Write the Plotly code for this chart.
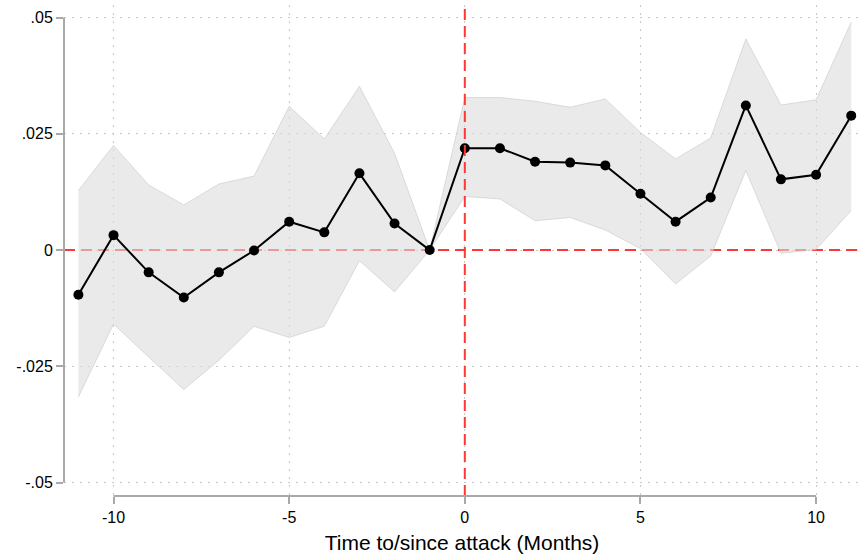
import plotly.graph_objects as go

months = list(range(-11, 12))
coef = [-0.0096, 0.0032, -0.0048, -0.0102, -0.0048, -0.0001, 0.0061, 0.0038, 0.0165, 0.0057, 0.0,
        0.0219, 0.0219, 0.0190, 0.0188, 0.0182, 0.0121, 0.0061, 0.0113, 0.0311, 0.0152, 0.0162, 0.0289]
upper = [0.0128, 0.0225, 0.0140, 0.0097, 0.0142, 0.0159, 0.0309, 0.0239, 0.0352, 0.0208, 0.0,
         0.0328, 0.0328, 0.0320, 0.0307, 0.0325, 0.0253, 0.0196, 0.0241, 0.0454, 0.0312, 0.0323, 0.0490]
lower = [-0.0316, -0.0159, -0.0230, -0.0300, -0.0237, -0.0164, -0.0188, -0.0164, -0.0023, -0.0090, 0.0,
         0.0115, 0.0110, 0.0063, 0.0070, 0.0043, 0.0003, -0.0073, -0.0013, 0.0171, -0.0007, 0.0001, 0.0085]

x_ticks = [-10, -5, 0, 5, 10]
x_labels = ["-10", "-5", "0", "5", "10"]
y_ticks = [-0.05, -0.025, 0, 0.025, 0.05]
y_labels = ["-.05", "-.025", "0", ".025", ".05"]

X_RANGE = [-11.41, 11.25]
Y_RANGE = [-0.0529, 0.0527]

FONT = "Liberation Sans, Arial, sans-serif"
AXIS_GRAY = "#a9a9a9"
GRID = "#c8c8c8"
RED = "rgb(255,55,55)"

fig = go.Figure()
# horizontal reference line at 0 (drawn first so the CI band overlays it)
fig.add_trace(go.Scatter(x=X_RANGE, y=[0, 0], mode="lines",
                         line=dict(color=RED, width=2, dash="11px,6px"),
                         hoverinfo="skip", showlegend=False))
fig.add_trace(go.Scatter(x=months, y=lower, mode="lines",
                         line=dict(color="rgba(200,200,200,0.6)", width=1),
                         hoverinfo="skip", showlegend=False))
fig.add_trace(go.Scatter(x=months, y=upper, mode="lines", fill="tonexty",
                         fillcolor="rgba(220,220,220,0.6)",
                         line=dict(color="rgba(200,200,200,0.6)", width=1),
                         hoverinfo="skip", showlegend=False))
fig.add_trace(go.Scatter(x=months, y=coef, mode="lines+markers",
                         line=dict(color="black", width=2),
                         marker=dict(color="black", size=10),
                         showlegend=False))

fig.add_shape(type="line", xref="x", x0=0, x1=0, yref="paper", y0=0, y1=1,
              line=dict(color=RED, width=2, dash="11px,6px"), layer="above")
# Stata-style axis lines spanning only the tick range
fig.add_shape(type="line", xref="x", x0=-10, x1=10, yref="paper", y0=0, y1=0,
              line=dict(color=AXIS_GRAY, width=2), layer="above")
fig.add_shape(type="line", xref="paper", x0=0, x1=0, yref="y", y0=-0.05, y1=0.05,
              line=dict(color=AXIS_GRAY, width=2), layer="above")

fig.update_layout(
    width=860, height=559,
    margin=dict(l=64, r=0, t=5, b=63),
    paper_bgcolor="white", plot_bgcolor="white",
    font=dict(family=FONT, color="black"),
    xaxis=dict(range=X_RANGE, tickvals=x_ticks, ticktext=x_labels,
               showgrid=True, gridcolor=GRID, griddash="1.5px,6.5px", gridwidth=1.2,
               zeroline=False, showline=False,
               ticks="outside", ticklen=7, tickwidth=2, tickcolor=AXIS_GRAY,
               tickfont=dict(size=16, family=FONT),
               title=dict(text="Time to/since attack (Months)", font=dict(size=21, family=FONT), standoff=10),
               automargin=False),
    yaxis=dict(range=Y_RANGE, tickvals=y_ticks, ticktext=y_labels,
               showgrid=True, gridcolor=GRID, griddash="1.5px,6.5px", gridwidth=1.2,
               zeroline=False, showline=False,
               ticks="outside", ticklen=7, tickwidth=2, tickcolor=AXIS_GRAY,
               tickfont=dict(size=16, family=FONT),
               automargin=False),
)

fig.write_html("out.html")
